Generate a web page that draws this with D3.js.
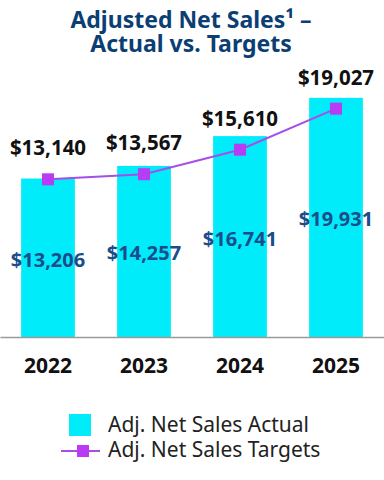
<!DOCTYPE html>
<html>
<head>
<meta charset="utf-8">
<script src="https://cdn.jsdelivr.net/npm/d3@7"></script>
<style>
    body { margin: 0; background: #fff; }
    svg { display: block; font-family: "Noto Sans", sans-serif; }
</style>
</head>
<body>
<svg id="chart" width="384" height="480"></svg>
<script>
const years = ['2022', '2023', '2024', '2025'];
const actualSales = [13206, 14257, 16741, 19931];
const targetSales = [13140, 13567, 15610, 19027];
const titleLines = ['Adjusted Net Sales\u00B9 \u2013', 'Actual vs. Targets'];
const legendLabels = ['Adj. Net Sales Actual', 'Adj. Net Sales Targets'];

const BAR_COLOR = '#00ecfa';
const LINE_COLOR = '#a64ee8';
const MARKER_COLOR = '#b83cf4';
const NAVY = '#0b3e72';
const INSIDE_BLUE = '#1b4d8c';

const svg = d3.select('#chart');
const fmt = d => '$' + d3.format(',')(d);

const x = d3.scaleBand()
    .domain(years)
    .range([0, 384])
    .paddingInner(0.44)
    .paddingOuter(0.22);

const y = d3.scaleLinear()
    .domain([0, 20000])
    .range([337, 97]);

// title
svg.append('g')
    .selectAll('text')
    .data(titleLines)
    .join('text')
    .attr('x', 191)
    .attr('y', (d, i) => 28 + i * 24)
    .attr('text-anchor', 'middle')
    .attr('fill', NAVY)
    .attr('font-size', 23)
    .attr('font-weight', 700)
    .text(d => d);

// bars
const rows = years.map((yr, i) => ({ year: yr, actual: actualSales[i], target: targetSales[i] }));

svg.append('g')
    .selectAll('rect')
    .data(rows)
    .join('rect')
    .attr('x', d => x(d.year))
    .attr('y', d => y(d.actual))
    .attr('width', x.bandwidth())
    .attr('height', d => y(0) - y(d.actual))
    .attr('fill', BAR_COLOR);

// baseline axis
const xAxis = svg.append('g')
    .attr('transform', `translate(0,${y(0)})`)
    .call(d3.axisBottom(x).tickSize(0).tickPadding(21));

xAxis.select('.domain')
    .attr('stroke', '#9a9a9a')
    .attr('stroke-width', 1.5);

xAxis.selectAll('text')
    .attr('font-family', '"Noto Sans", sans-serif')
    .attr('font-size', 21)
    .attr('font-weight', 700)
    .attr('fill', '#111');

// labels inside bars
svg.append('g')
    .selectAll('text')
    .data(rows)
    .join('text')
    .attr('x', d => x(d.year) + x.bandwidth() / 2)
    .attr('y', d => (y(d.actual) + y(0)) / 2 + 9)
    .attr('text-anchor', 'middle')
    .attr('fill', INSIDE_BLUE)
    .attr('font-size', 20)
    .attr('font-weight', 700)
    .text(d => fmt(d.actual));

// target line
const line = d3.line()
    .x(d => x(d.year) + x.bandwidth() / 2)
    .y(d => y(d.target));

svg.append('path')
    .datum(rows)
    .attr('d', line)
    .attr('fill', 'none')
    .attr('stroke', LINE_COLOR)
    .attr('stroke-width', 2);

svg.append('g')
    .selectAll('rect')
    .data(rows)
    .join('rect')
    .attr('x', d => x(d.year) + x.bandwidth() / 2 - 6)
    .attr('y', d => y(d.target) - 6)
    .attr('width', 12)
    .attr('height', 12)
    .attr('fill', MARKER_COLOR);

// target labels
svg.append('g')
    .selectAll('text')
    .data(rows)
    .join('text')
    .attr('x', d => x(d.year) + x.bandwidth() / 2)
    .attr('y', d => y(d.target) - 24)
    .attr('text-anchor', 'middle')
    .attr('fill', '#111')
    .attr('font-size', 20.5)
    .attr('font-weight', 700)
    .text(d => fmt(d.target));

// legend
const legend = svg.append('g');

legend.append('rect')
    .attr('x', 69)
    .attr('y', 414)
    .attr('width', 22)
    .attr('height', 22)
    .attr('fill', BAR_COLOR);

legend.append('line')
    .attr('x1', 61)
    .attr('x2', 100)
    .attr('y1', 451)
    .attr('y2', 451)
    .attr('stroke', LINE_COLOR)
    .attr('stroke-width', 2);

legend.append('rect')
    .attr('x', 77)
    .attr('y', 445)
    .attr('width', 12)
    .attr('height', 12)
    .attr('fill', MARKER_COLOR);

legend.selectAll('text.leg')
    .data(legendLabels)
    .join('text')
    .attr('class', 'leg')
    .attr('x', 108)
    .attr('y', (d, i) => 432 + i * 25)
    .attr('fill', '#222')
    .attr('font-size', 21)
    .text(d => d);
</script>
</body>
</html>
